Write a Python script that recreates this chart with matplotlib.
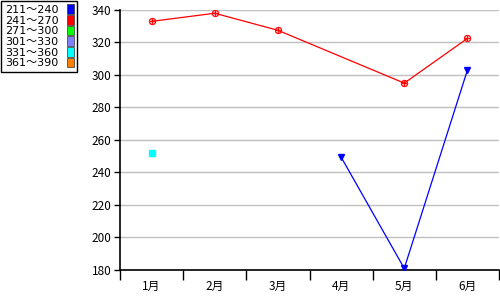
import matplotlib
matplotlib.use('Agg')
import matplotlib.pyplot as plt
from matplotlib.patches import Patch
import numpy as np

plt.rcParams['font.family'] = ['Noto Sans CJK JP', 'DejaVu Sans']

# data
months = ['1月', '2月', '3月', '4月', '5月', '6月']
red_vals = [333, 338, 327.5, np.nan, 295, 322.5]
blue_vals = [np.nan, np.nan, np.nan, 249.5, 181, 303]
cyan_vals = [252, np.nan, np.nan, np.nan, np.nan, np.nan]

legend_labels = ['211～240', '241～270', '271～300', '301～330', '331～360', '361～390']
legend_colors = ['#0000ff', '#ff0000', '#00ff00', '#8080ff', '#00ffff', '#ff8000']

fig = plt.figure(figsize=(5, 3), dpi=100)
ax = fig.add_axes([0.24, 0.1, 0.758, 0.8667])

x = np.arange(len(months))

# red line skips the missing month but stays connected
rx = [i for i, v in zip(x, red_vals) if not np.isnan(v)]
ry = [v for v in red_vals if not np.isnan(v)]
ax.plot(rx, ry, color='#ff0000', linewidth=0.9, marker='$\\oplus$',
        markersize=5, markeredgewidth=0.3, zorder=3)

ax.plot(x, blue_vals, color='#0000ff', linewidth=0.9, marker='v',
        markersize=4, zorder=3)

ax.plot(x, cyan_vals, color='#00ffff', linestyle='none', marker='s',
        markersize=5, zorder=3)

ax.set_xlim(-0.5, 5.5)
ax.set_ylim(180, 340)
ax.set_yticks(np.arange(180, 341, 20))
ax.yaxis.grid(True, color='#c0c0c0', linewidth=1)
ax.set_axisbelow(True)

ax.set_xticks(x)
ax.set_xticklabels(months)
ax.set_xticks(np.arange(-0.5, 6, 1), minor=True)
ax.tick_params(axis='x', which='major', length=0, pad=7, labelsize=8.5)
ax.tick_params(axis='x', which='minor', length=7, width=1, color='black')
ax.tick_params(axis='y', length=4, width=1, labelsize=8.5, pad=2)

for s in ['top', 'right']:
    ax.spines[s].set_visible(False)
for s in ['left', 'bottom']:
    ax.spines[s].set_color('black')
    ax.spines[s].set_linewidth(1.2)

handles = [Patch(facecolor=c, edgecolor='#333333', linewidth=0.5) for c in legend_colors]
leg = fig.legend(handles, legend_labels, loc='upper left', bbox_to_anchor=(0.002, 0.998),
                 markerfirst=False, prop={'family': ['DejaVu Sans', 'Noto Sans CJK JP'], 'size': 8},
                 handlelength=0.55, handleheight=0.95,
                 handletextpad=0.8, labelspacing=0.0, borderpad=0.35,
                 fancybox=False, framealpha=1, edgecolor='black', borderaxespad=0)
leg.get_frame().set_linewidth(1)

fig.savefig('out.png', dpi=100)
